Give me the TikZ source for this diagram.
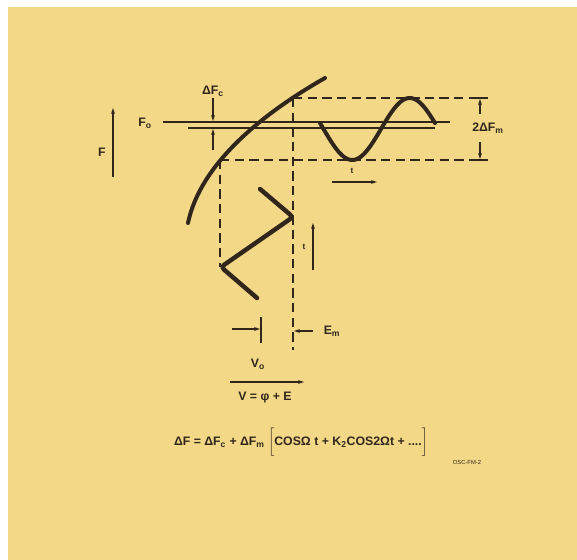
\documentclass[tikz,border=0pt]{standalone}
\usepackage{fontspec}
\setmainfont{Liberation Sans}
\usetikzlibrary{arrows.meta, positioning, calc}
\definecolor{cPaper}{RGB}{243,216,136}
\definecolor{cInk}{RGB}{48,38,28}
\tikzset{
	trace/.style={line width=3.4pt, cInk, line cap=round, line join=round},
	level/.style={line width=1.1pt, cInk},
	guide/.style={line width=0.9pt, cInk, dash pattern=on 8pt off 4.5pt},
	sig/.style={-{Latex[length=2mm, width=1.2mm]}, line width=0.9pt, cInk},
	lbl/.style={text=cInk, font=\fontsize{10.5}{12}\selectfont\bfseries, inner sep=1pt},
}

\begin{document}
\begin{tikzpicture}[x=0.03cm, y=-0.03cm]
	\fill[white] (0,0) rectangle (577,560);
	\fill[cPaper] (8,7) rectangle (577,560);
	\useasboundingbox (0,0) rectangle (577,560);
	% reference points
	\coordinate (upL) at (163,122); \coordinate (upR) at (450,122);
	\coordinate (loL) at (188,128); \coordinate (loR) at (435,128);
	\coordinate (pkL) at (293,98);  \coordinate (pkR) at (488,98);
	\coordinate (vlL) at (220,160); \coordinate (vlR) at (488,160);
	\coordinate (zzL) at (220,267); \coordinate (zzR) at (293,350);
	% labels
	\node[lbl] (lF) at (102,152) {F};
	\node[lbl] (lFo) at (145,123) {F\textsubscript{o}};
	\node[lbl] (lDFc) at (213,91) {ΔF\textsubscript{c}};
	\node[lbl] (lDFm) at (488,128) {2ΔF\textsubscript{m}};
	\node[lbl, font=\scriptsize\bfseries] (lt1) at (352,171) {t};
	\node[lbl, font=\scriptsize\bfseries] (lt2) at (304,247) {t};
	\node[lbl] (lEm) at (332,331) {E\textsubscript{m}};
	\node[lbl] (lVo) at (258,364) {V\textsubscript{o}};
	\node[lbl] (lV) at (265,398) {V = φ + E};
	\node[lbl] (eq) at (301,442) {ΔF = ΔF\textsubscript{c} + ΔF\textsubscript{m} $\bigg[$COSΩ t + K\textsubscript{2}COS2Ωt + ....$\bigg]$};
	\node[lbl, font=\tiny] (code) at (467,462) {OSC-FM-2};
	% characteristic, levels and projections
	\draw[trace] (325,78) .. controls (260,115) and (200,165) .. (188,223);
	\draw[level] (upL) -- (upR);
	\draw[level] (loL) -- (loR);
	\draw[guide] (pkL) -- (pkR);
	\draw[guide] (vlL) -- (vlR);
	\draw[guide] (vlL) -- (zzL);
	\draw[guide] (pkL) -- (zzR);
	% output and input waves
	\draw[trace] plot[domain=-11:349, samples=90, smooth] ({320+(\x+11)*0.3194}, {129+31*sin(\x)});
	\draw[trace, line width=3.8pt, rounded corners=3pt] (260,189) -- (293,217) -- (221,267) -- (257,298);
	% arrows
	\coordinate (fT) at (113,177); \coordinate (fH) at (113,107);
	\draw[sig] (fT) -- (fH);
	\draw[sig] (lDFc.south) -- (lDFc.south |- upL);
	\coordinate (dcT) at (213,150);
	\draw[sig] (dcT) -- (dcT |- loL);
	\coordinate (dmT) at (480,114); \coordinate (dmB) at (480,142);
	\draw[sig] (dmT) -- (dmT |- pkR);
	\draw[sig] (dmB) -- (dmB |- vlR);
	\draw[level] ($(dmT |- pkR)+(-4,0)$) -- +(8,0);
	\draw[level] ($(dmB |- vlR)+(-4,0)$) -- +(8,0);
	\coordinate (t1A) at (332,182); \coordinate (t1B) at (378,182);
	\draw[sig] (t1A) -- (t1B);
	\coordinate (t2A) at (313,270); \coordinate (t2B) at (313,222);
	\draw[sig] (t2A) -- (t2B);
	\coordinate (voA) at (232,329); \coordinate (voB) at (261,329);
	\draw[sig] (voA) -- (voB);
	\draw[level] (261,317) -- (261,343);
	\draw[sig, shorten <=8pt] (lEm.west) -- (lEm.west -| zzR);
	\coordinate (vA) at (230,382); \coordinate (vB) at (305,382);
	\draw[sig] (vA) -- (vB);
\end{tikzpicture}
\end{document}
